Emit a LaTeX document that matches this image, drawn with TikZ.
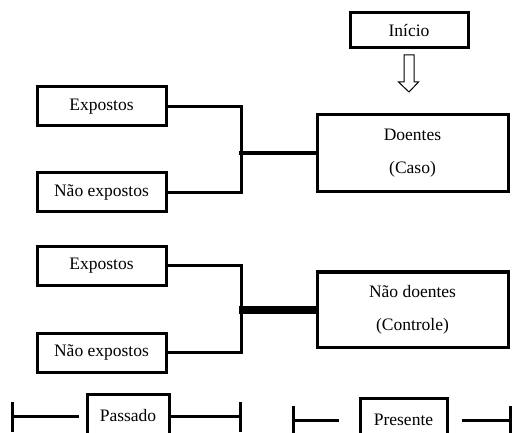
\documentclass[tikz,border=0pt]{standalone}
\usepackage{fontspec}
\setmainfont{Liberation Serif}
\usetikzlibrary{positioning}

\begin{document}
\begin{tikzpicture}[
      x=1pt, y=-1pt,
      every node/.style={font=\fontsize{17.5}{20}\selectfont},
      box/.style={draw, line width=3pt, minimum width=129pt, minimum height=39pt, inner sep=0pt},
      groupbox/.style={draw, line width=3pt, minimum width=191pt, inner sep=0pt, align=center},
      timebox/.style={draw, line width=3pt, inner sep=0pt, minimum height=44pt},
      link/.style={line width=3pt},
      tick/.style={line width=3pt}
    ]

    \useasboundingbox (0,0) rectangle (512,433);
    \clip (0,0) rectangle (512,433);

    % Start
    \node[box, minimum width=118pt, minimum height=35pt] (inicio) at (409,30.5) {Início};
    \coordinate (seta) at (409,55);
    \draw[line width=1pt] (seta) ++(-5,0) -- ++(10,0) -- ++(0,27) -- ++(4.5,0)
      -- (409,92) -- (398.5,82) -- ++(5.5,0) -- cycle;

    % Cases
    \node[box] (exp1) at (101.5,106.5) {Expostos};
    \node[box] (naoexp1) at (101.5,192.5) {Não expostos};
    \node[groupbox, minimum height=77pt] (doentes) at (412.5,153.5) {Doentes\\[13pt](Caso)};

    \draw[link] (exp1.east) -- ++(74,0) |- (naoexp1.east);
    \draw[link, line width=4pt] (doentes.west) -- ++(-77,0);

    % Controls
    \node[box, minimum height=38pt] (exp2) at (101.5,266) {Expostos};
    \node[box] (naoexp2) at (101.5,352.5) {Não expostos};
    \node[groupbox, minimum height=75pt] (naodoentes) at (412.5,309.5) {Não doentes\\[13pt](Controle)};

    \draw[link] (exp2.east) -- ++(74,0) |- (naoexp2.east);
    \draw[link, line width=8pt] (naodoentes.west) -- ++(-77,0);

    % Time line
    \node[timebox, minimum width=82pt] (passado) at (128,416) {Passado};
    \node[timebox, minimum width=87pt] (presente) at (403.5,420) {Presente};

    \coordinate (pa1) at (12,416);
    \coordinate (pa2) at (240,416);
    \coordinate (pr1) at (293,420);
    \coordinate (pr2) at (510,420);

    \draw[tick] (pa1) -- ([xshift=-7pt]passado.west);
    \draw[tick] (passado.east) -- (pa2);
    \draw[tick] (pr1) -- ([xshift=-20pt]presente.west);
    \draw[tick] ([xshift=13pt]presente.east) -- (pr2);
    \foreach \t in {pa1,pa2,pr1,pr2}
      \draw[tick] (\t) ++(0,-14) -- ++(0,30);

  \end{tikzpicture}
\end{document}
